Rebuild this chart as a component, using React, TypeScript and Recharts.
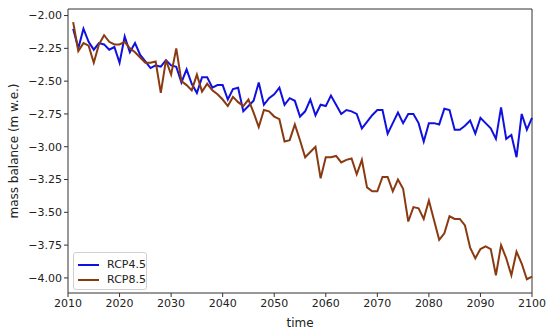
import React from "react";
import { LineChart, Line, XAxis, YAxis, Label, ReferenceLine } from "recharts";

const years = Array.from({ length: 90 }, (_, i) => 2011 + i);

const rcp45 = [
  -2.10, -2.25, -2.10, -2.20, -2.26, -2.21, -2.22, -2.26, -2.24, -2.36,
  -2.16, -2.28, -2.21, -2.30, -2.35, -2.40, -2.38, -2.39, -2.34, -2.38,
  -2.39, -2.51, -2.41, -2.52, -2.59, -2.47, -2.47, -2.55, -2.53, -2.53,
  -2.64, -2.56, -2.55, -2.73, -2.69, -2.65, -2.51, -2.68, -2.63, -2.60,
  -2.55, -2.68, -2.63, -2.65, -2.77, -2.73, -2.64, -2.76, -2.68, -2.69,
  -2.61, -2.68, -2.75, -2.72, -2.73, -2.75, -2.86, -2.81, -2.76, -2.72,
  -2.72, -2.90, -2.82, -2.74, -2.82, -2.75, -2.75, -2.82, -2.96, -2.82,
  -2.82, -2.83, -2.71, -2.72, -2.87, -2.87, -2.84, -2.80, -2.90, -2.78,
  -2.82, -2.86, -2.94, -2.70, -2.94, -2.91, -3.08, -2.75, -2.87, -2.78,
];

const rcp85 = [
  -2.05, -2.27, -2.21, -2.23, -2.36, -2.22, -2.15, -2.20, -2.22, -2.22,
  -2.20, -2.25, -2.28, -2.32, -2.36, -2.36, -2.35, -2.59, -2.34, -2.45,
  -2.25, -2.50, -2.53, -2.57, -2.45, -2.58, -2.52, -2.57, -2.60, -2.64,
  -2.69, -2.62, -2.66, -2.69, -2.64, -2.74, -2.85, -2.72, -2.73, -2.77,
  -2.79, -2.96, -2.95, -2.83, -2.95, -3.08, -3.04, -3.00, -3.24, -3.08,
  -3.08, -3.07, -3.12, -3.10, -3.09, -3.21, -3.10, -3.31, -3.34, -3.34,
  -3.23, -3.23, -3.34, -3.25, -3.32, -3.57, -3.46, -3.47, -3.55, -3.41,
  -3.56, -3.71, -3.66, -3.53, -3.55, -3.55, -3.60, -3.77, -3.85, -3.78,
  -3.76, -3.78, -3.98, -3.75, -3.85, -3.98, -3.80, -3.89, -4.01, -3.99,
];

const xTicks = [2010, 2020, 2030, 2040, 2050, 2060, 2070, 2080, 2090, 2100];
const yTicks = [-4.0, -3.75, -3.5, -3.25, -3.0, -2.75, -2.5, -2.25, -2.0];

const data = years.map((year, i) => ({ year, rcp45: rcp45[i], rcp85: rcp85[i] }));

const BLUE = "#1010e0";
const BROWN = "#8a3a10";
const AXIS = "#333";
const FONT = "'DejaVu Sans', sans-serif";
const Y_DOMAIN: [number, number] = [-4.115, -1.95];

const fmtY = (v: number) => v.toFixed(2).replace("-", "\u2212");

// matplotlib-style legend box, overlaid in the lower-left corner
const LegendBox = () => (
  <div
    style={{
      position: "absolute",
      left: 73,
      top: 252,
      width: 74,
      height: 38,
      border: "1px solid #d0d0d0",
      borderRadius: 3,
      background: "rgba(255,255,255,0.85)",
      fontFamily: FONT,
      fontSize: 11,
      color: "#222",
      boxSizing: "border-box",
      padding: "4px 0 0 4px",
    }}
  >
    {[
      { name: "RCP4.5", color: BLUE },
      { name: "RCP8.5", color: BROWN },
    ].map((e) => (
      <div key={e.name} style={{ display: "flex", alignItems: "center", height: 15, lineHeight: "15px" }}>
        <span style={{ display: "inline-block", width: 22, height: 2, background: e.color, marginRight: 8 }} />
        <span>{e.name}</span>
      </div>
    ))}
  </div>
);

export default function App() {
  return (
    <div style={{ position: "absolute", left: 0, top: 0, width: 550, height: 333, background: "#fff" }}>
      <LineChart width={550} height={333} data={data} margin={{ top: 9, right: 18, bottom: 15, left: 8 }}>
        <XAxis
          dataKey="year"
          type="number"
          domain={[2010, 2100]}
          ticks={xTicks}
          stroke={AXIS}
          tickSize={4}
          tick={{ fontSize: 11, fill: "#222", fontFamily: FONT }}
          height={25}
        >
          <Label value="time" position="insideBottom" offset={-9} style={{ fontSize: 12, fill: "#222", fontFamily: FONT }} />
        </XAxis>
        <YAxis
          type="number"
          domain={Y_DOMAIN}
          ticks={yTicks}
          tickFormatter={fmtY}
          stroke={AXIS}
          tickSize={4}
          tick={{ fontSize: 11, fill: "#222", fontFamily: FONT }}
          width={60}
        >
          <Label
            value="mass balance (m w.e.)"
            angle={-90}
            position="insideLeft"
            offset={6}
            style={{ textAnchor: "middle", fontSize: 12, fill: "#222", fontFamily: FONT }}
          />
        </YAxis>
        {/* top and right spines */}
        <ReferenceLine y={Y_DOMAIN[1]} stroke={AXIS} strokeWidth={1} />
        <ReferenceLine x={2100} stroke={AXIS} strokeWidth={1} />
        <Line dataKey="rcp45" name="RCP4.5" stroke={BLUE} strokeWidth={2} dot={false} isAnimationActive={false} />
        <Line dataKey="rcp85" name="RCP8.5" stroke={BROWN} strokeWidth={2} dot={false} isAnimationActive={false} />
      </LineChart>
      <LegendBox />
    </div>
  );
}
